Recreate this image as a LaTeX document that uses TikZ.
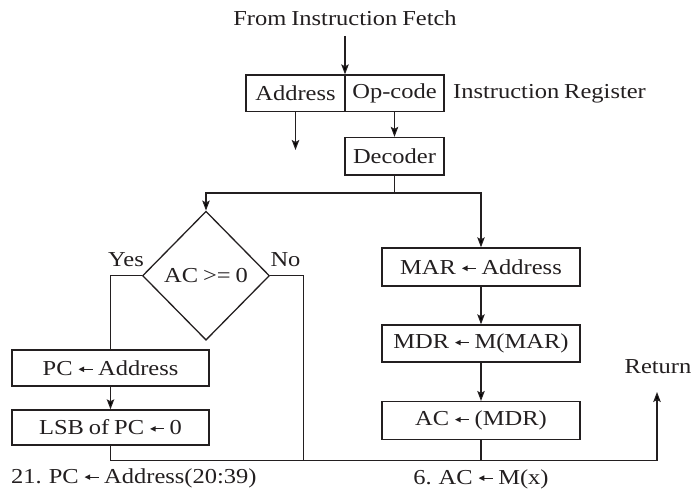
\documentclass[tikz,border=0pt]{standalone}
\usepackage{fontspec}
\setmainfont{Liberation Serif}[FakeStretch=1.15, WordSpace=0.8]
\usetikzlibrary{shapes.geometric,arrows.meta,calc}
\definecolor{ink}{HTML}{231F20}
\newcommand{\la}{\kern6pt\tikz[baseline={(0pt,-6pt)}, x=1pt, y=1pt]{\fill[ink] (0,0) -- (5.5,2.8) -- (5.5,-2.8) -- cycle; \draw[ink, line width=1pt] (5,0) -- (14,0);}\kern5pt}
\begin{document}
\begin{tikzpicture}[x=1pt,y=-1pt,
  every node/.style={font=\fontsize{21.3}{25}\selectfont, text=ink},
  box/.style={draw=ink, line width=1.4pt, rectangle, inner sep=0pt, minimum width=198pt, minimum height=37pt},
  cell/.style={draw=ink, line width=1.4pt, rectangle, inner sep=0pt, minimum width=99pt, minimum height=36.7pt},
  dia/.style={draw=ink, line width=1.3pt, diamond, inner sep=0pt, minimum width=127pt, minimum height=129pt},
  con/.style={draw=ink, line width=1.1pt},
  arr/.style={con, -{Stealth[length=10pt,width=7.5pt,inset=2pt]}},
  lbl/.style={inner sep=0pt}]
\useasboundingbox (0,0) rectangle (694,494);

\node[lbl] (from) at (345,18) {From Instruction Fetch};
\node[cell] (addr) at (295.5,93.4) {Address};
\node[cell] (op) at (394.5,93.4) {Op-code};
\node[lbl, anchor=west] (irl) at (453,93.4) {Instruction Register};
\coordinate (fromend) at (345,36);
\coordinate (aend) at (295.5,150);
\node[cell, minimum height=37.5pt] (dec) at (394.5,156.3) {Decoder};
\coordinate (j) at (394.5,193);

\node[dia] (d) at (206,275.7) {AC >= 0};
\node[lbl] (yes) at (126,260) {Yes};
\node[lbl] (no) at (285.5,260) {No};

\node[box, minimum width=197pt, minimum height=36pt] (pc) at (110.5,368) {PC\la Address};
\node[box, minimum width=197pt, minimum height=35pt] (lsb) at (110.5,427.5) {LSB of PC\la 0};

\node[box, minimum height=38pt] (mar) at (481,267) {MAR\la Address};
\node[box] (mdr) at (481,343.5) {MDR\la M(MAR)};
\node[box, minimum height=37.7pt] (ac) at (481,420.5) {AC\la (MDR)};

\coordinate (nend) at (303.7,460.5);
\coordinate (ret) at (657,392);
\node[lbl] (retl) at (658,367) {Return};

\node[lbl, anchor=west] (b1) at (11,478) {21. PC\la Address(20:39)};
\node[lbl] (b2) at (481,479) {6. AC\la M(x)};

% connectors
\draw[arr] (fromend) -- (fromend |- addr.north);
\draw[arr] (addr.south) -- (aend);
\draw[arr] (op.south) -- (dec.north);
\draw[con] (dec.south) -- (j);
\draw[arr] (j) -| (d.north);
\draw[arr] (j) -| (mar.north);
\draw[con] (d.west) -| (pc.north);
\draw[con] (d.east) -| (nend);
\draw[arr] (pc.south) -- (lsb.north);
\draw[arr] (mar.south) -- (mdr.north);
\draw[arr] (mdr.south) -- (ac.north);
\draw[con] (ac.south) -- (ac.south |- nend);
\draw[arr] (lsb.south) -- (lsb.south |- nend) -- (ret |- nend) -- (ret);
\end{tikzpicture}
\end{document}
